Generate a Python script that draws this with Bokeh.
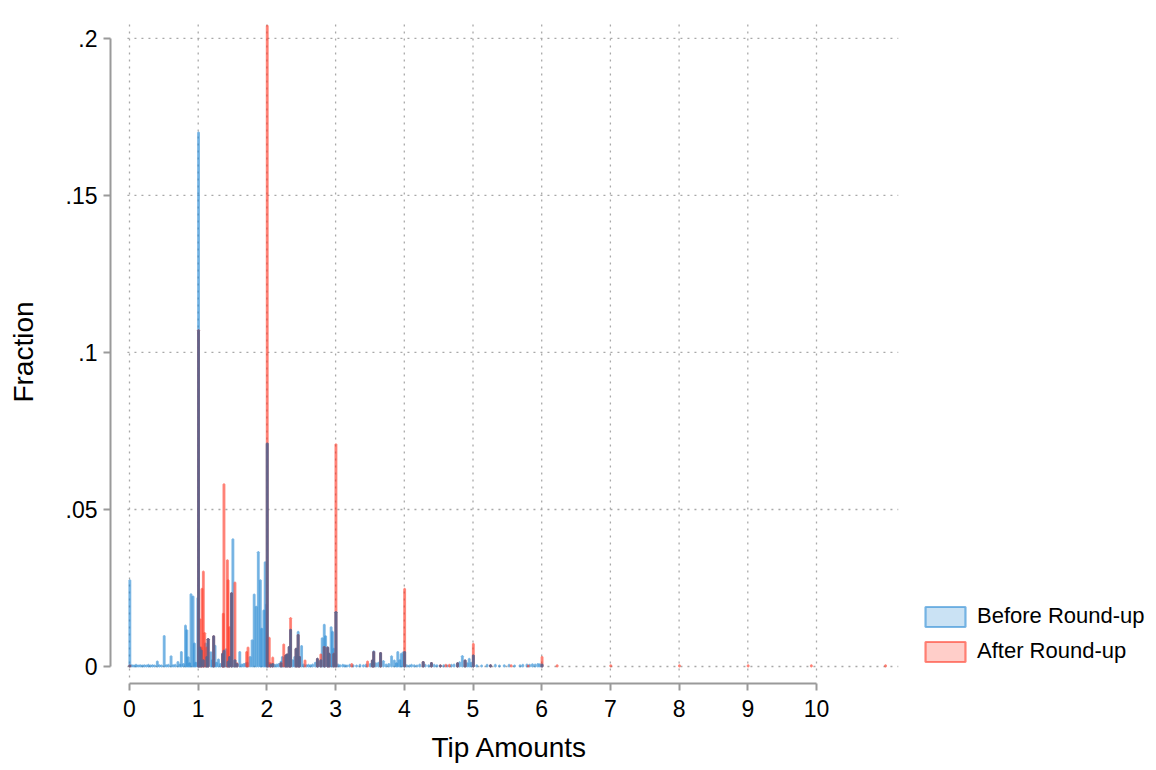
from bokeh.plotting import figure
from bokeh.models import Range1d, FixedTicker, Legend, LegendItem, ColumnDataSource, Title
from bokeh.embed import file_html
from bokeh.resources import INLINE

# ---------------- data (fraction per 0.01-wide tip bin) ----------------
before_tip = [0.00, 0.03, 0.06, 0.09, 0.12, 0.15, 0.18, 0.21, 0.24, 0.27, 0.30, 0.33, 0.36,
              0.40, 0.43, 0.46, 0.50, 0.53, 0.56, 0.60, 0.63, 0.66, 0.70, 0.73, 0.75, 0.78,
              0.81, 0.83, 0.85, 0.87, 0.89, 0.92, 0.94, 0.96, 0.99, 1.00, 1.02, 1.04, 1.07,
              1.10, 1.12, 1.14, 1.18, 1.20, 1.22, 1.24, 1.26, 1.29, 1.32, 1.35, 1.37, 1.40,
              1.43, 1.45, 1.48, 1.50, 1.53, 1.56, 1.60, 1.63, 1.66, 1.69, 1.71, 1.75, 1.78,
              1.81, 1.84, 1.87, 1.90, 1.92, 1.95, 1.97, 1.99, 2.00, 2.02, 2.05, 2.08, 2.11,
              2.14, 2.17, 2.20, 2.22, 2.25, 2.27, 2.29, 2.32, 2.34, 2.37, 2.40, 2.42, 2.45,
              2.47, 2.50, 2.53, 2.57, 2.60, 2.63, 2.66, 2.70, 2.73, 2.75, 2.78, 2.80, 2.83,
              2.85, 2.88, 2.90, 2.93, 2.95, 2.97, 3.00, 3.03, 3.06, 3.10, 3.13, 3.16, 3.20,
              3.25, 3.30, 3.35, 3.40, 3.44, 3.50, 3.53, 3.55, 3.58, 3.62, 3.65, 3.69, 3.73,
              3.77, 3.81, 3.85, 3.88, 3.90, 3.93, 3.95, 3.98, 4.00, 4.03, 4.07, 4.10, 4.14,
              4.18, 4.22, 4.27, 4.30, 4.35, 4.39, 4.43, 4.47, 4.52, 4.57, 4.62, 4.68, 4.72,
              4.77, 4.80, 4.84, 4.88, 4.91, 4.94, 4.97, 5.00, 5.05, 5.12, 5.20, 5.25, 5.32,
              5.38, 5.45, 5.52, 5.60, 5.68, 5.72, 5.78, 5.82, 5.86, 5.90, 5.94, 5.97, 6.00]
before_frac = [0.0274, 0.0004, 0.0003, 0.0005, 0.0003, 0.0004, 0.0003, 0.0004, 0.0003, 0.0005, 0.0003, 0.0004, 0.0003,
               0.0016, 0.0004, 0.0003, 0.0097, 0.0004, 0.0005, 0.0032, 0.0004, 0.0005, 0.0014, 0.0006, 0.0046, 0.0008,
               0.0130, 0.0115, 0.0029, 0.0010, 0.0230, 0.0223, 0.0073, 0.0012, 0.0218, 0.1700, 0.0060, 0.0051, 0.0020,
               0.0073, 0.0030, 0.0087, 0.0045, 0.0020, 0.0096, 0.0066, 0.0012, 0.0022, 0.0008, 0.0040, 0.0050, 0.0055,
               0.0015, 0.0030, 0.0233, 0.0405, 0.0020, 0.0008, 0.0046, 0.0006, 0.0008, 0.0010, 0.0012, 0.0030, 0.0083,
               0.0229, 0.0190, 0.0364, 0.0274, 0.0120, 0.0178, 0.0332, 0.0197, 0.0710, 0.0012, 0.0006, 0.0008, 0.0005,
               0.0006, 0.0008, 0.0015, 0.0030, 0.0028, 0.0035, 0.0038, 0.0062, 0.0117, 0.0020, 0.0030, 0.0056, 0.0110,
               0.0030, 0.0065, 0.0006, 0.0004, 0.0005, 0.0004, 0.0006, 0.0012, 0.0024, 0.0015, 0.0020, 0.0090, 0.0133,
               0.0096, 0.0060, 0.0040, 0.0125, 0.0110, 0.0056, 0.0173, 0.0006, 0.0004, 0.0005, 0.0004, 0.0003, 0.0005,
               0.0004, 0.0003, 0.0005, 0.0004, 0.0006, 0.0008, 0.0019, 0.0048, 0.0010, 0.0012, 0.0043, 0.0017, 0.0006,
               0.0008, 0.0032, 0.0019, 0.0010, 0.0046, 0.0020, 0.0040, 0.0045, 0.0046, 0.0004, 0.0003, 0.0005, 0.0004,
               0.0003, 0.0006, 0.0014, 0.0005, 0.0004, 0.0011, 0.0005, 0.0004, 0.0003, 0.0004, 0.0003, 0.0005, 0.0006,
               0.0010, 0.0013, 0.0033, 0.0019, 0.0010, 0.0024, 0.0012, 0.0035, 0.0004, 0.0003, 0.0005, 0.0004, 0.0005,
               0.0003, 0.0004, 0.0005, 0.0003, 0.0004, 0.0005, 0.0006, 0.0005, 0.0007, 0.0006, 0.0008, 0.0007, 0.0006]

after_tip = [0.00, 1.00, 1.02, 1.04, 1.05, 1.07, 1.09, 1.12, 1.14, 1.22, 1.35, 1.36, 1.37, 1.42,
             1.43, 1.45, 1.48, 1.53, 1.56, 1.70, 1.72, 2.00, 2.03, 2.05, 2.08, 2.20, 2.24, 2.27,
             2.29, 2.32, 2.34, 2.42, 2.45, 2.47, 2.55, 2.73, 2.78, 2.83, 2.88, 2.90, 2.97, 3.00,
             3.23, 3.46, 3.53, 3.55, 3.65, 4.00, 4.27, 4.39, 4.52, 4.60, 4.65, 4.77, 4.88, 5.00,
             5.25, 5.55, 5.80, 6.00, 6.22, 7.00, 8.00, 9.00, 9.92, 11.00]
after_frac = [0.0003, 0.1070, 0.0150, 0.0060, 0.0247, 0.0302, 0.0106, 0.0060, 0.0087, 0.0096, 0.0040, 0.0168, 0.0580, 0.0338,
              0.0274, 0.0125, 0.0233, 0.0267, 0.0010, 0.0046, 0.0060, 0.2040, 0.0091, 0.0010, 0.0028, 0.0010, 0.0070, 0.0035,
              0.0038, 0.0062, 0.0154, 0.0056, 0.0100, 0.0030, 0.0019, 0.0024, 0.0038, 0.0062, 0.0060, 0.0040, 0.0040, 0.0707,
              0.0008, 0.0016, 0.0019, 0.0046, 0.0043, 0.0247, 0.0014, 0.0011, 0.0004, 0.0005, 0.0005, 0.0010, 0.0019, 0.0072,
              0.0004, 0.0004, 0.0003, 0.0030, 0.0004, 0.0004, 0.0004, 0.0004, 0.0004, 0.0004]

x_ticks = [0, 1, 2, 3, 4, 5, 6, 7, 8, 9, 10]
y_ticks = [0, 0.05, 0.1, 0.15, 0.2]
y_tick_labels = ["0", ".05", ".1", ".15", ".2"]
series_labels = ["Before Round-up", "After Round-up"]
x_title = "Tip Amounts"
y_title = "Fraction"

# bins present in both series (drawn darker, where the two histograms overlap)
after_map = {round(t, 2): f for t, f in zip(after_tip, after_frac)}
both_tip, both_frac = [], []
for t, f in zip(before_tip, before_frac):
    k = round(t, 2)
    if k in after_map:
        both_tip.append(t)
        both_frac.append(min(f, after_map[k]))

BIN = 0.01
FONT = "Liberation Sans"
BLUE = "#2a8ad4"
RED = "#ff3b28"
NAVY = "#56648f"
AXIS_GRAY = "#9a9a9a"
GRID_GRAY = "#a8a8a8"

FRAME_W = 1038
PX_PER_UNIT = 68.7
X0 = -0.2766
X1 = X0 + FRAME_W / PX_PER_UNIT
Y0, Y1 = -0.00541, 0.2057
# extent of the plot region's grid (the legend sits to its right)
GRID_X = (-0.03, 11.19)
GRID_Y = (-0.0035, Y1)

p = figure(frame_width=FRAME_W, frame_height=663, output_backend="svg", toolbar_location=None,
           x_range=Range1d(X0, X1), y_range=Range1d(Y0, Y1),
           min_border_left=110, min_border_right=0, min_border_top=20, min_border_bottom=86)
p.outline_line_color = None
p.background_fill_color = "white"
p.border_fill_color = "white"
p.xgrid.visible = False
p.ygrid.visible = False

# dotted grid limited to the plot region
p.segment(x0=[GRID_X[0]] * len(y_ticks), x1=[GRID_X[1]] * len(y_ticks), y0=y_ticks, y1=y_ticks,
          line_color=GRID_GRAY, line_dash="2 5", line_width=1.3)
p.segment(x0=x_ticks, x1=x_ticks, y0=[GRID_Y[0]] * len(x_ticks), y1=[GRID_Y[1]] * len(x_ticks),
          line_color=GRID_GRAY, line_dash="2 5", line_width=1.3)

src_b = ColumnDataSource(dict(x=[t + BIN / 2 for t in before_tip], top=before_frac))
src_a = ColumnDataSource(dict(x=[t + BIN / 2 for t in after_tip], top=after_frac))
src_o = ColumnDataSource(dict(x=[t + BIN / 2 for t in both_tip], top=both_frac))

rb = p.vbar(x="x", top="top", bottom=0, width=BIN, source=src_b,
            fill_color=BLUE, fill_alpha=0.25, line_color=BLUE, line_alpha=0.6, line_width=2.2)
ra = p.vbar(x="x", top="top", bottom=0, width=BIN, source=src_a,
            fill_color=RED, fill_alpha=0.25, line_color=RED, line_alpha=0.6, line_width=2.2)
p.vbar(x="x", top="top", bottom=0, width=BIN, source=src_o,
       fill_color=NAVY, fill_alpha=0.8, line_color=NAVY, line_alpha=0.8, line_width=2.2)

# axes
for ax in (p.xaxis[0], p.yaxis[0]):
    ax.axis_line_color = AXIS_GRAY
    ax.axis_line_width = 2
    ax.major_tick_line_color = AXIS_GRAY
    ax.major_tick_line_width = 2
    ax.major_tick_in = 0
    ax.major_tick_out = 7
    ax.minor_tick_line_color = None
    ax.major_label_text_font = FONT
    ax.major_label_text_font_size = "23px"
    ax.major_label_text_color = "black"
    ax.axis_label_text_font = FONT
    ax.axis_label_text_font_size = "28px"
    ax.axis_label_text_font_style = "normal"
    ax.axis_label_text_color = "black"

p.xaxis.ticker = FixedTicker(ticks=x_ticks)
p.xaxis.bounds = (0, 10)
p.xaxis.major_label_standoff = 9
p.yaxis.ticker = FixedTicker(ticks=y_ticks)
p.yaxis.bounds = (0, 0.2)
p.yaxis.major_label_standoff = 6
p.yaxis.major_label_overrides = dict(zip(y_ticks, y_tick_labels))
p.yaxis.axis_label = y_title
p.yaxis.axis_label_standoff = 24

# x-axis title, centred under the 0-10 axis (not under the whole frame)
p.add_layout(Title(text=x_title, align="left", offset=321, standoff=20,
                   text_font=FONT, text_font_size="28px", text_font_style="normal",
                   text_color="black"), "below")

legend = Legend(items=[LegendItem(label=series_labels[0], renderers=[rb]),
                       LegendItem(label=series_labels[1], renderers=[ra])],
                location=(810, 19), margin=0, padding=0, spacing=9,
                glyph_width=50, glyph_height=25, label_standoff=7,
                label_text_font=FONT, label_text_font_size="22px", label_text_color="black",
                border_line_color=None, background_fill_alpha=0)
p.add_layout(legend, "center")

open("out.html", "w").write(file_html(p, INLINE))
